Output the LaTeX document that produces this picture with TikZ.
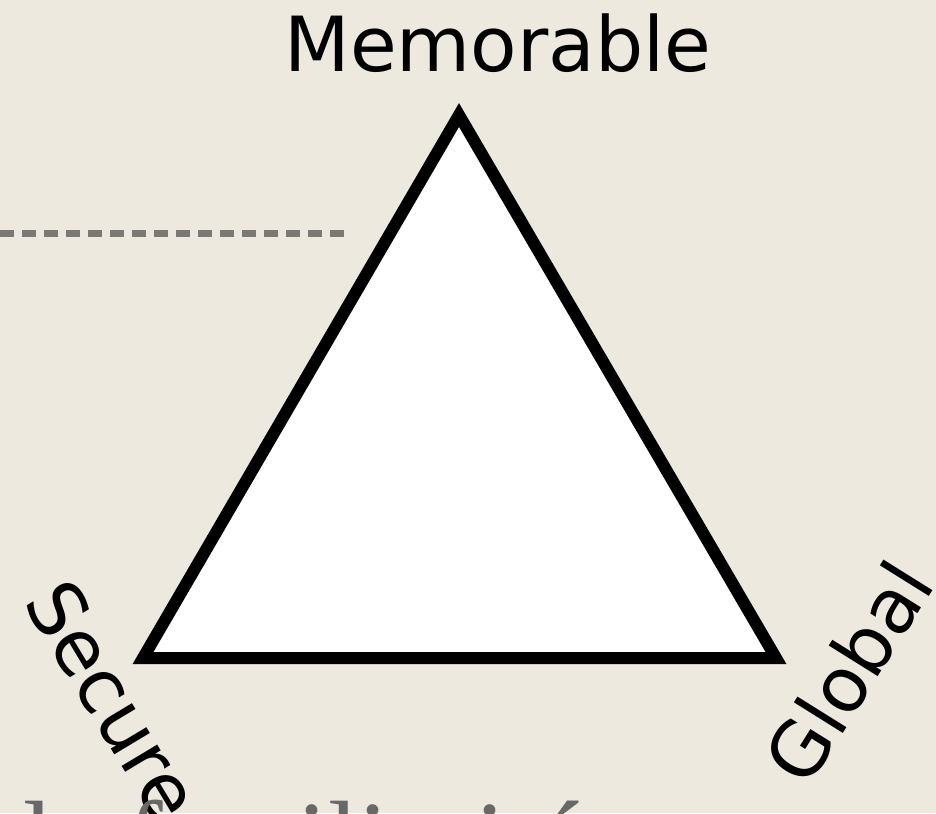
\documentclass[tikz,border=0pt]{standalone}
\usepackage{fontspec}
\setmainfont{Liberation Serif}
\newfontfamily\labelfont{DejaVu Sans}
\definecolor{paper}{RGB}{237,233,222}
\definecolor{rulegray}{RGB}{122,121,116}
\definecolor{captiongray}{RGB}{104,104,102}

\begin{document}
\begin{tikzpicture}[x=0.5pt,y=-0.5pt,
    corner/.style={font=\labelfont\fontsize{38}{40}\selectfont,inner sep=0pt},
    side/.style={line width=6pt,line join=miter,fill=white}]
  \def \w {936}
  \def \h {813}

  \fill[paper] (0,0) rectangle (\w,\h);
  \clip (0,0) rectangle (\w,\h);

  % dotted rule on the left
  \draw[rulegray,line width=3.5pt,dash pattern=on 7pt off 4pt] (0,233) -- (350,233);

  % the triangle
  \coordinate (top) at (459,115);
  \coordinate (left) at (143,658);
  \coordinate (right) at (776,658);
  \draw[side] (top) -- (left) -- (right) -- cycle;

  \node[corner,anchor=base] (mem) at (498,72) {Memorable};
  \node[corner,rotate=-59] (sec) at (114,700) {Secure};
  \node[corner,rotate=58] (glo) at (848,672) {Global};

  % cut-off caption below
  \node[anchor=base west,inner sep=0pt,text=captiongray,
        font=\fontsize{55}{60}\selectfont] (caption) at (-5,877) {de familiarité};
\end{tikzpicture}
\end{document}
